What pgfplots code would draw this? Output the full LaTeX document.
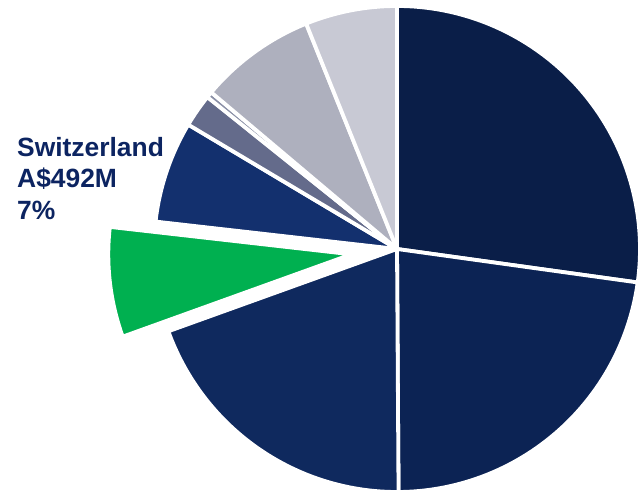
\documentclass[border=0pt]{standalone}
\usepackage{pgfplots}
\pgfplotsset{compat=1.18}
\usepackage{pgfplotstable}
\usepackage{fontspec}
\setmainfont{Liberation Sans}
\definecolor{c1}{HTML}{0A1E48}
\definecolor{c2}{HTML}{0C2354}
\definecolor{c3}{HTML}{0F295E}
\definecolor{cg}{HTML}{00B050}
\definecolor{c5}{HTML}{13306E}
\definecolor{c6}{HTML}{646B8B}
\definecolor{c7}{HTML}{8A8FA6}
\definecolor{c8}{HTML}{AEB0BE}
\definecolor{c9}{HTML}{C8C9D4}
\definecolor{labelblue}{HTML}{0C2461}
% share (%), colour, explode offset (px)
\pgfplotstableread{
label value col ex
A 27.2 c1 0
B 22.7 c2 0
C 19.6 c3 0
Switzerland 7.3 cg 46
E 6.75 c5 0
F 2.2 c6 0
G 0.4 c7 0
H 7.75 c8 0
I 6.1 c9 0
}\piedata
\def\cum{0}%
\pgfplotsforeachungrouped \i in {0,...,8}{%
  \pgfplotstablegetelem{\i}{value}\of\piedata
  \let\v\pgfplotsretval
  \pgfmathsetmacro\sa{90-3.6*\cum}%
  \pgfmathsetmacro\cum{\cum+\v}%
  \global\let\cum\cum
  \pgfmathsetmacro\se{90-3.6*\cum}%
  \expandafter\xdef\csname sa\i\endcsname{\sa}%
  \expandafter\xdef\csname se\i\endcsname{\se}%
  \pgfplotstablegetelem{\i}{ex}\of\piedata
  \let\ex\pgfplotsretval
  \pgfmathsetmacro\md{(\sa+\se)/2}%
  \pgfmathsetmacro\dx{\ex*cos(\md)}%
  \pgfmathsetmacro\dy{\ex*sin(\md)}%
  \expandafter\xdef\csname dx\i\endcsname{\dx}%
  \expandafter\xdef\csname dy\i\endcsname{\dy}%
  \pgfplotstablegetelem{\i}{col}\of\piedata
  \colorlet{slice\i}{\pgfplotsretval}%
}%
\begin{document}
\begin{tikzpicture}
\begin{axis}[
  hide axis, scale only axis,
  x=1bp, y=1bp,
  xmin=-397, xmax=241, ymin=-242, ymax=249,
  clip=true,
  slice/.style={draw=white, line width=3.8bp, line join=round, samples=120},
]
\coordinate (bl) at (rel axis cs:0,0);
\coordinate (tr) at (rel axis cs:1,1);
\pgfplotsinvokeforeach{0,...,8}{%
  \edef\doslice{\noexpand\addplot[slice, fill=slice#1,
      domain=\csname se#1\endcsname:\csname sa#1\endcsname]
    ({\csname dx#1\endcsname+243*cos(x)},{\csname dy#1\endcsname+243*sin(x)})
    -- (axis cs:\csname dx#1\endcsname,\csname dy#1\endcsname) -- cycle;}%
  \doslice
}
\begin{scope}[every node/.style={anchor=base west, inner sep=0pt, text=labelblue,
    font=\fontsize{26.4bp}{31bp}\selectfont\bfseries}]
\node at (axis cs:-380,92.3) {Switzerland};
\node at (axis cs:-380,61.3) {A\$492M};
\node at (axis cs:-380,29.9) {7\%};
\end{scope}
\end{axis}
\pgfresetboundingbox
\useasboundingbox (bl) rectangle (tr);
\end{tikzpicture}
\end{document}
